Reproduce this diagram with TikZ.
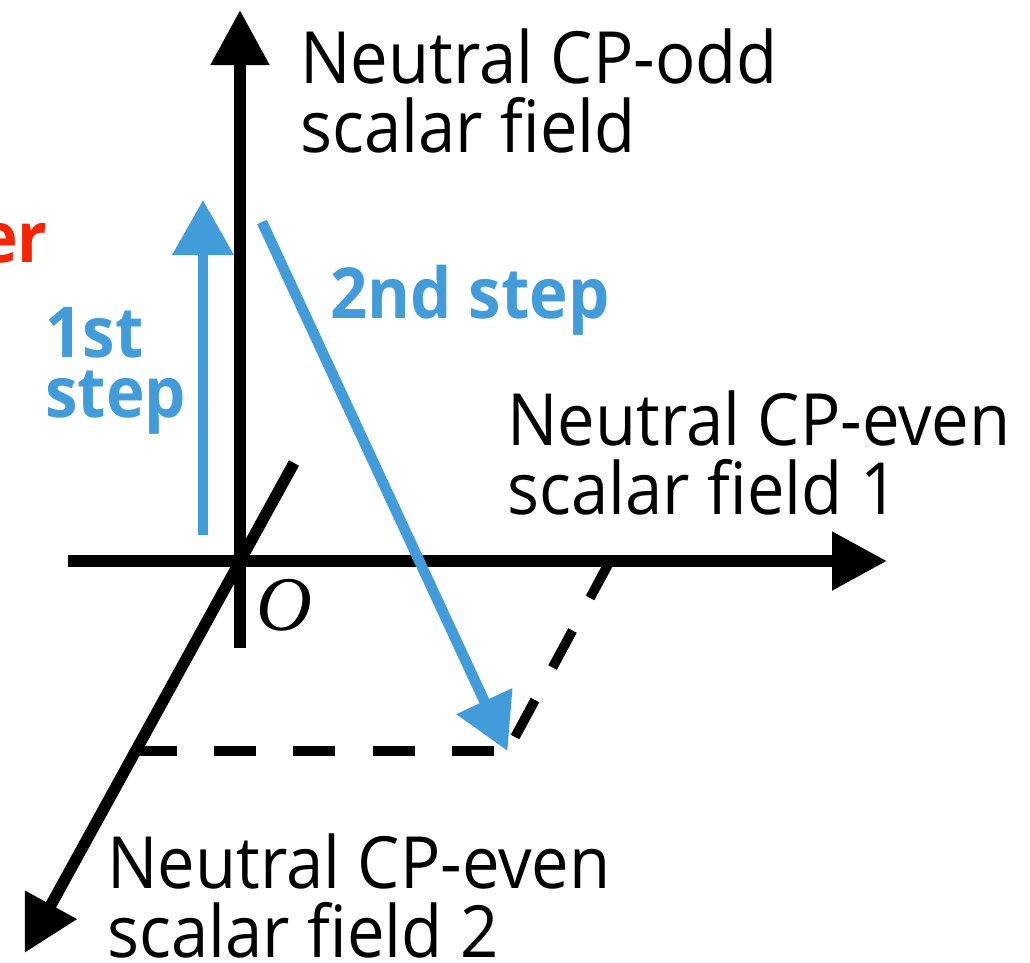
\documentclass[tikz,border=0pt]{standalone}
\usepackage{fontspec}
\setmainfont[FakeStretch=0.93]{Open Sans}
\newfontfamily\oserif{Liberation Serif}
\definecolor{stepblue}{RGB}{66,156,218}
\definecolor{stepred}{RGB}{250,35,0}
\usepackage{tikz}
\usetikzlibrary{arrows.meta,positioning,calc}

\begin{document}
\begin{tikzpicture}[every node/.style={inner sep=0pt,align=left},
  axis/.style={line width=6.5pt,-{Triangle[length=1.1cm,width=1.12cm]}},
  proj/.style={line width=5.5pt,dash pattern=on 0.84cm off 0.74cm},
  steparrow/.style={stepblue,line width=6pt,-{Triangle[length=1.1cm,width=1.18cm]}},
  axislabel/.style={font=\fontsize{41}{39}\selectfont},
  steplabel/.style={text=stepblue,font=\fontsize{40}{34}\selectfont\bfseries}]
  \useasboundingbox (-4.8,-8.02) rectangle (15.8,11.22);
  %% Axes
  \coordinate (O) at (0,0);
  \coordinate (zlow) at (0,-1.74);
  \coordinate (ztip) at (0,11.02);
  \coordinate (xlow) at (-3.44,0);
  \coordinate (xtip) at (12.94,0);
  \coordinate (ylow) at (1.08,1.96);
  \coordinate (ytip) at (-4.31,-7.84);
  \draw[axis] (zlow) -- (ztip);
  \draw[axis] (xlow) -- (xtip);
  \draw[axis] (ylow) -- (ytip);
  %% Projection of the end point
  \coordinate (P) at (5.35,-3.8);
  \coordinate (Px) at (7.4,0);
  \coordinate (Py) at (-2.09,-3.8);
  \draw[proj] (Px) -- (P);
  \draw[proj] (Py) -- (P);
  %% Steps
  \coordinate (s1a) at (-0.74,0.52);
  \coordinate (s1b) at (-0.74,7.22);
  \coordinate (s2a) at (0.44,6.78);
  \draw[steparrow] (s1a) -- (s1b);
  \draw[steparrow] (s2a) -- (P);
  %% Labels (base = last line)
  \node[axislabel,anchor=base west] (zlab) at (1.2,8.18) {Neutral CP-odd\\scalar field};
  \node[axislabel,anchor=base west] (xlab) at (5.34,0.94) {Neutral CP-even\\scalar field 1};
  \node[axislabel,anchor=base west] (ylab) at (-2.66,-7.92) {Neutral CP-even\\scalar field 2};
  \node[steplabel,anchor=base west] (lab1) at (-3.9,2.88) {1st\\step};
  \node[steplabel,anchor=base west] (lab2) at (1.8,4.86) {2nd step};
  \node[text=stepred,font=\fontsize{40}{40}\selectfont\bfseries,anchor=base east] (cut) at (-3.84,5.98) {er};
  \node[font=\fontsize{44}{44}\selectfont\oserif\itshape] (olab) at (0.88,-0.88) {O};
\end{tikzpicture}
\end{document}
